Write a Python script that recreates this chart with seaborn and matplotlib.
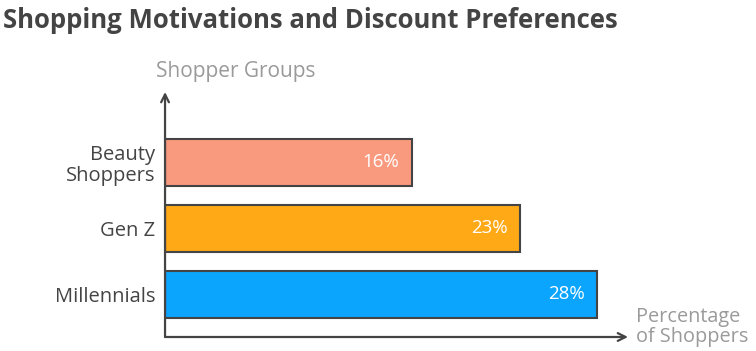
import matplotlib
matplotlib.use("Agg")
import matplotlib.pyplot as plt
import pandas as pd
import seaborn as sns

# ── Data ───────────────────────────────────────────────────────────────────────
GROUPS  = ["Beauty\nShoppers", "Gen Z", "Millennials"]
VALUES  = [16, 23, 28]
LABELS  = ["16%", "23%", "28%"]
COLOURS = ["#F99A7E", "#FFA916", "#0CA5FE"]

TITLE   = "Shopping Motivations and Discount Preferences"
Y_TITLE = "Shopper Groups"
X_TITLE = "Percentage\nof Shoppers"

AXIS_C  = "#444444"
GREY_C  = "#9A9A9A"

sns.set_theme(style="white")
plt.rcParams["font.family"] = ["Open Sans", "DejaVu Sans"]

df = pd.DataFrame({"group": GROUPS, "value": VALUES})

fig = plt.figure(figsize=(7.56, 3.51), dpi=100)
ax = fig.add_axes([0.2183, 0.0399, 0.8307 - 0.2183, 0.7379 - 0.0399])

sns.barplot(
    data=df, x="value", y="group", hue="group",
    palette=COLOURS, legend=False, orient="h",
    width=0.71, edgecolor=AXIS_C, linewidth=1.5, saturation=1, ax=ax,
)

ax.set_xlim(0, 30)
ax.set_ylim(2.644, -1.068)

for s in ax.spines.values():
    s.set_visible(False)
ax.set_xticks([])
ax.set_xlabel("")
ax.set_ylabel("")
ax.tick_params(axis="y", length=0, pad=7)
for t in ax.get_yticklabels():
    t.set_fontsize(14.5)
    t.set_color(AXIS_C)
    t.set_ha("right")
    t.set_linespacing(1.05)

# value labels inside bars
for i, (v, lab) in enumerate(zip(VALUES, LABELS)):
    ax.annotate(lab, xy=(v, i), xytext=(-9, 0), textcoords="offset points",
                ha="right", va="center", color="white", fontsize=13.5)

# arrowed axes
arrow = dict(arrowstyle="->", color=AXIS_C, lw=1.6,
             mutation_scale=14, shrinkA=0, shrinkB=0)
ax.annotate("", xy=(0, 1), xytext=(0, 0), xycoords="axes fraction",
            arrowprops=arrow, annotation_clip=False)
ax.annotate("", xy=(1, 0), xytext=(0, 0), xycoords="axes fraction",
            arrowprops=arrow, annotation_clip=False)

fig.text(236 / 756, 1 - 72 / 351, Y_TITLE, ha="center", va="center",
         fontsize=15, color=GREY_C)
fig.text(636 / 756, 1 - 327 / 351, X_TITLE, ha="left", va="center",
         fontsize=14.3, color=GREY_C, linespacing=1.05)

fig.text(3 / 756, 1 - 21 / 351, TITLE, ha="left", va="center",
         fontsize=18.5, fontweight="bold", color=AXIS_C)

fig.savefig("out.png", dpi=100)
